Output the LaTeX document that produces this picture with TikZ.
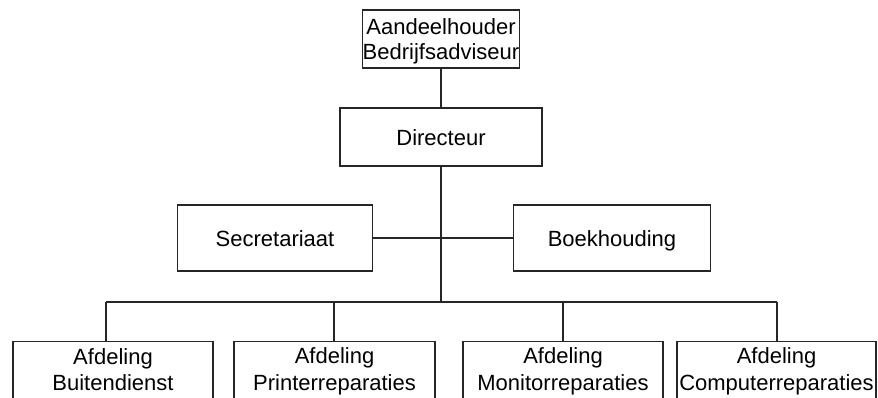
\documentclass[tikz,border=0pt]{standalone}
\usepackage{fontspec}
\setmainfont{Liberation Sans}
\newcommand{\ls}{\rule[-4pt]{0pt}{25pt}}
\begin{document}
\begin{tikzpicture}[x=1pt,y=-1pt,
  box/.style={draw=black!85, line width=1.2pt, fill=white, align=center,
    font=\fontsize{22}{25}\selectfont, inner sep=0pt, text=black},
  conn/.style={draw=black!85, line width=1.2pt}]
\useasboundingbox (0,0) rectangle (878,397);
\clip (0,0) rectangle (878,397);
\fill[white] (0,0) rectangle (878,397);
\node[box, minimum width=150pt, minimum height=58pt] (top) at (441,39) {\ls Aandeelhouder\\\ls Bedrijfsadviseur};
\node[box, minimum width=202pt, minimum height=58pt] (dir) at (441,137) {\ls Directeur};
\node[box, minimum width=195pt, minimum height=66pt] (sec) at (275,238) {\ls Secretariaat};
\node[box, minimum width=197pt, minimum height=66pt] (boek) at (612,238) {\ls Boekhouding};
\node[box, minimum width=200pt, minimum height=62pt, anchor=north] (b1) at (113,341) {};
\node[box, minimum width=201pt, minimum height=62pt, anchor=north] (b2) at (334.5,341) {};
\node[box, minimum width=200pt, minimum height=62pt, anchor=north] (b3) at (563,341) {};
\node[box, minimum width=199pt, minimum height=62pt, anchor=north] (b4) at (776.5,341) {};
\node[box, draw=none, fill=none] (t1) at (113,369) {\ls Afdeling\\\ls Buitendienst};
\node[box, draw=none, fill=none] (t2) at (334.5,369) {\ls Afdeling\\\ls Printerreparaties};
\node[box, draw=none, fill=none] (t3) at (563,369) {\ls Afdeling\\\ls Monitorreparaties};
\node[box, draw=none, fill=none] (t4) at (776.5,369) {\ls Afdeling\\\ls Computerreparaties};
\coordinate (j1) at (106,302);
\coordinate (jm) at (441,302);
\coordinate (j4) at (777,302);
\draw[conn] (top.south) -- (dir.north);
\draw[conn] (sec.east) -- (boek.west);
\draw[conn] (dir.south) -- (jm);
\draw[conn] (j1) -- (j4);
\draw[conn] (j1) -- (j1 |- b1.north);
\draw[conn] ([xshift=-0.5pt]b2.north |- j1) -- ([xshift=-0.5pt]b2.north);
\draw[conn] (b3.north |- j1) -- (b3.north);
\draw[conn] (j4) -- (j4 |- b4.north);
\end{tikzpicture}
\end{document}
